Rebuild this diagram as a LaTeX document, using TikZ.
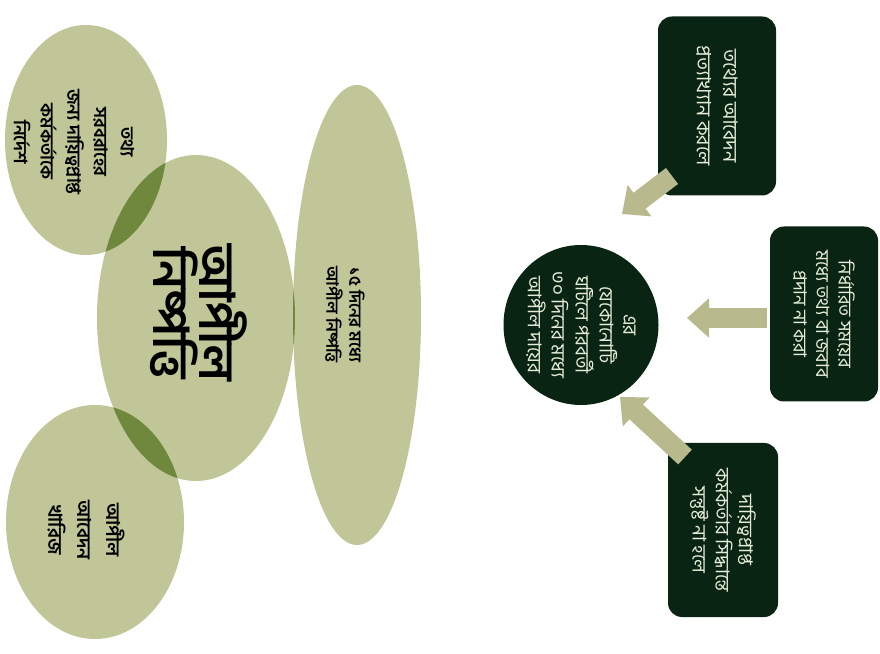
\documentclass[tikz,border=0pt]{standalone}
\usepackage{fontspec}
\newfontfamily\bnfont[Script=Bengali]{Hind Siliguri}
\usetikzlibrary{arrows.meta,shapes.geometric}
\definecolor{leafcol}{RGB}{192,198,152}
\definecolor{leafdark}{RGB}{112,136,62}
\definecolor{boxcol}{RGB}{10,36,20}
\definecolor{boxtext}{RGB}{228,236,214}
\definecolor{arrowcol}{RGB}{184,185,140}
\tikzset{
  leaftext/.style={rotate=-90, align=center, text=black},
  darkbox/.style={rounded corners=3.5mm, fill=boxcol, rotate=-90, align=center, text=boxtext},
  flowarrow/.style={draw=arrowcol, line width=5mm, -{Triangle[length=5.5mm, width=9.5mm]}}
}
\begin{document}
\begin{tikzpicture}[x=0.25mm, y=-0.25mm]
			%%%%% START %%%%%
			\useasboundingbox (0, 0) rectangle (880, 654);

			% left: appeal disposal
			\fill[leafcol] (86, 140) ellipse (81 and 115);
			\fill[leafcol] (95, 522) ellipse (89 and 117);
			\fill[leafcol] (357, 315) ellipse (64 and 230);
			\fill[leafcol] (196, 318) ellipse (99 and 163);

			\begin{scope}
				\clip (196, 318) ellipse (99 and 163);
				\fill[leafdark] (86, 140) ellipse (81 and 115);
				\fill[leafdark] (95, 522) ellipse (89 and 117);
				\fill[leafdark] (357, 315) ellipse (64 and 230);
			\end{scope}

			\node[leaftext, font=\bnfont\bfseries\fontsize{13}{19}\selectfont] (order) at (74, 142) {তথ্য\\সরবরাহের\\জন্য দায়িত্বপ্রাপ্ত\\কর্মকর্তাকে\\নির্দেশ};
			\node[leaftext, font=\bnfont\bfseries\fontsize{35}{33}\selectfont] (title) at (199, 313) {আপীল\\নিষ্পত্তি};
			\node[leaftext, font=\bnfont\bfseries\fontsize{12}{16.5}\selectfont] (within) at (345, 315) {১৫ দিনের মধ্যে\\আপীল নিষ্পত্তি};
			\node[leaftext, font=\bnfont\bfseries\fontsize{13.5}{20.5}\selectfont] (reject) at (86, 530) {আপীল\\আবেদন\\খারিজ};

			% right: when to appeal
			\node[darkbox, minimum width=44.75mm, minimum height=29.5mm, font=\bnfont\fontsize{14}{19}\selectfont] (refuse) at (717, 106) {তথ্যের আবেদন\\প্রত্যাখ্যান করলে};
			\node[darkbox, minimum width=43.75mm, minimum height=27mm, font=\bnfont\fontsize{13}{16}\selectfont] (late) at (824, 314) {নির্ধারিত সময়ের\\মধ্যে তথ্য বা জবাব\\প্রদান না করা};
			\node[darkbox, minimum width=43.5mm, minimum height=27.5mm, font=\bnfont\fontsize{13.5}{16.5}\selectfont] (unhappy) at (723, 530) {দায়িত্বপ্রাপ্ত\\কর্মকর্তার সিদ্ধান্তে\\সন্তুষ্ট না হলে};
			\node[ellipse, fill=boxcol, rotate=-90, minimum width=40mm, minimum height=38mm, align=center, text=boxtext, inner sep=0pt, font=\bnfont\fontsize{13.5}{17}\selectfont] (appeal) at (581, 325) {এর\\যেকোনোটি\\ঘটিলে পরবর্তী\\৩০ দিনের মধ্যে\\আপীল দায়ের};

			\coordinate (refuse-out) at (672, 176);
			\coordinate (refuse-in) at (622, 214);
			\coordinate (late-out) at (767, 318);
			\coordinate (late-in) at (687, 318);
			\coordinate (unhappy-out) at (685, 457);
			\coordinate (unhappy-in) at (620, 397);

			\draw[flowarrow] (refuse-out) -- (refuse-in);
			\draw[flowarrow] (late-out) -- (late-in);
			\draw[flowarrow] (unhappy-out) -- (unhappy-in);
			%%%%% END %%%%%
\end{tikzpicture}
\end{document}
